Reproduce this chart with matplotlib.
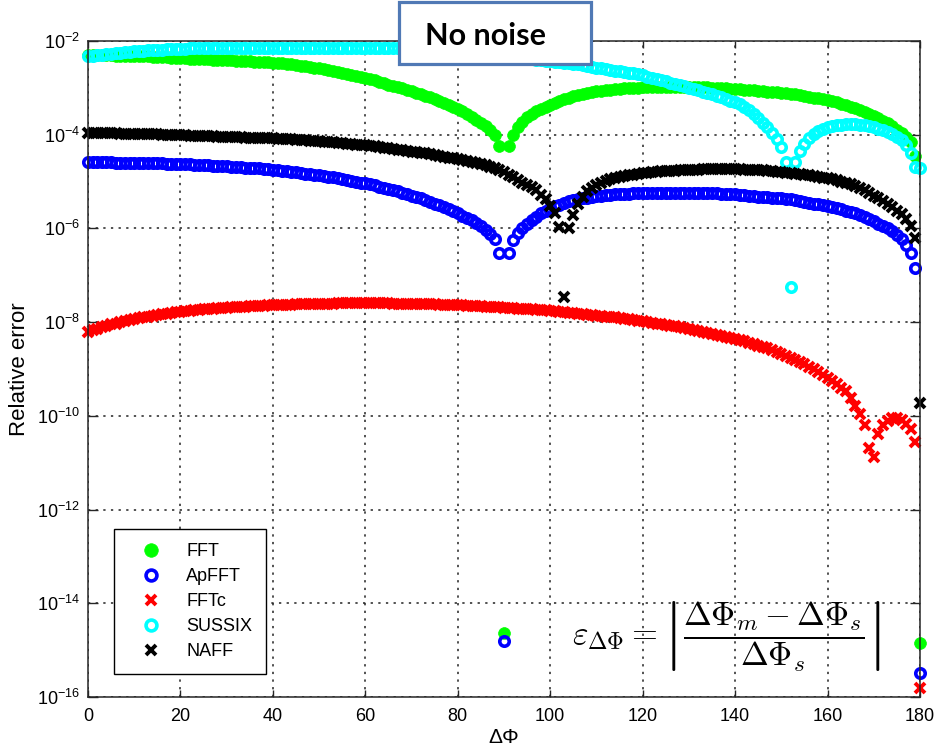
import numpy as np
import matplotlib
matplotlib.use("Agg")
import matplotlib.pyplot as plt
from matplotlib.patches import Rectangle
from matplotlib.ticker import FixedLocator, NullLocator, LogFormatterSciNotation

plt.rcParams['font.family'] = ['Liberation Sans', 'DejaVu Sans']

# Phase advance in degrees (1 degree step)
phase_deg = np.arange(0, 181)

# log10 of the relative error for each method, one entry per degree
fft_exp = [
    -2.29, -2.29, -2.29, -2.30, -2.30, -2.30, -2.31, -2.31, -2.31, -2.32,
    -2.32, -2.32, -2.33, -2.33, -2.34, -2.34, -2.35, -2.35, -2.36, -2.36,
    -2.37, -2.37, -2.38, -2.38, -2.38, -2.39, -2.39, -2.40, -2.40, -2.41,
    -2.41, -2.41, -2.42, -2.42, -2.43, -2.43, -2.44, -2.44, -2.45, -2.45,
    -2.46, -2.47, -2.48, -2.49, -2.50, -2.51, -2.53, -2.54, -2.55, -2.57,
    -2.58, -2.60, -2.62, -2.64, -2.66, -2.68, -2.70, -2.72, -2.75, -2.77,
    -2.79, -2.82, -2.84, -2.87, -2.90, -2.93, -2.96, -2.98, -3.01, -3.04,
    -3.07, -3.10, -3.13, -3.17, -3.20, -3.24, -3.28, -3.32, -3.36, -3.40,
    -3.45, -3.50, -3.56, -3.62, -3.68, -3.75, -3.82, -3.89, -4.00, -4.25,
    -14.64, -4.25, -4.00, -3.84, -3.72, -3.63, -3.56, -3.50, -3.45, -3.40,
    -3.36, -3.32, -3.28, -3.24, -3.21, -3.18, -3.15, -3.13, -3.11, -3.09,
    -3.07, -3.06, -3.05, -3.04, -3.03, -3.02, -3.01, -3.01, -3.00, -3.00,
    -2.99, -2.99, -2.99, -2.99, -2.98, -2.98, -2.98, -2.98, -2.98, -2.98,
    -2.98, -2.98, -2.99, -2.99, -2.99, -3.00, -3.00, -3.01, -3.01, -3.02,
    -3.02, -3.03, -3.04, -3.04, -3.05, -3.06, -3.07, -3.08, -3.08, -3.09,
    -3.10, -3.11, -3.13, -3.14, -3.16, -3.17, -3.19, -3.21, -3.22, -3.24,
    -3.26, -3.28, -3.31, -3.34, -3.37, -3.40, -3.44, -3.48, -3.52, -3.56,
    -3.60, -3.65, -3.70, -3.76, -3.82, -3.89, -3.96, -4.04, -4.15, -4.45,
    -14.85,
]

apfft_exp = [
    -4.59, -4.59, -4.59, -4.59, -4.59, -4.59, -4.60, -4.60, -4.60, -4.60,
    -4.60, -4.60, -4.61, -4.61, -4.61, -4.61, -4.61, -4.62, -4.62, -4.62,
    -4.62, -4.63, -4.63, -4.64, -4.64, -4.65, -4.65, -4.66, -4.66, -4.67,
    -4.67, -4.68, -4.69, -4.69, -4.70, -4.71, -4.72, -4.72, -4.73, -4.74,
    -4.75, -4.76, -4.77, -4.78, -4.79, -4.80, -4.81, -4.83, -4.84, -4.85,
    -4.87, -4.88, -4.90, -4.91, -4.93, -4.94, -4.96, -4.98, -5.00, -5.02,
    -5.04, -5.06, -5.08, -5.11, -5.13, -5.16, -5.19, -5.21, -5.24, -5.27,
    -5.30, -5.33, -5.36, -5.40, -5.43, -5.47, -5.51, -5.55, -5.59, -5.63,
    -5.68, -5.73, -5.78, -5.83, -5.89, -5.95, -6.03, -6.12, -6.22, -6.52,
    -14.80, -6.52, -6.25, -6.10, -6.00, -5.90, -5.82, -5.75, -5.68, -5.62,
    -5.57, -5.53, -5.49, -5.46, -5.42, -5.40, -5.37, -5.35, -5.34, -5.32,
    -5.31, -5.30, -5.29, -5.28, -5.27, -5.27, -5.26, -5.26, -5.25, -5.25,
    -5.25, -5.25, -5.24, -5.24, -5.24, -5.24, -5.24, -5.24, -5.24, -5.24,
    -5.24, -5.24, -5.24, -5.25, -5.25, -5.25, -5.25, -5.26, -5.26, -5.27,
    -5.27, -5.28, -5.29, -5.30, -5.31, -5.32, -5.32, -5.33, -5.34, -5.35,
    -5.36, -5.37, -5.38, -5.40, -5.41, -5.43, -5.45, -5.47, -5.48, -5.50,
    -5.52, -5.54, -5.57, -5.59, -5.62, -5.65, -5.68, -5.72, -5.76, -5.80,
    -5.85, -5.90, -5.95, -6.00, -6.06, -6.13, -6.22, -6.35, -6.52, -6.84,
    -15.49,
]

fftc_exp = [
    -8.20, -8.17, -8.14, -8.11, -8.08, -8.05, -8.03, -8.00, -7.98, -7.96,
    -7.94, -7.92, -7.90, -7.88, -7.86, -7.85, -7.83, -7.82, -7.80, -7.79,
    -7.78, -7.77, -7.76, -7.75, -7.74, -7.73, -7.72, -7.71, -7.70, -7.70,
    -7.69, -7.68, -7.68, -7.67, -7.67, -7.66, -7.66, -7.65, -7.65, -7.64,
    -7.64, -7.64, -7.63, -7.63, -7.63, -7.62, -7.62, -7.62, -7.62, -7.61,
    -7.61, -7.61, -7.61, -7.61, -7.60, -7.60, -7.60, -7.60, -7.60, -7.60,
    -7.60, -7.60, -7.60, -7.60, -7.60, -7.60, -7.61, -7.61, -7.61, -7.61,
    -7.61, -7.61, -7.62, -7.62, -7.62, -7.62, -7.63, -7.63, -7.63, -7.64,
    -7.64, -7.64, -7.65, -7.65, -7.66, -7.66, -7.67, -7.67, -7.68, -7.68,
    -7.69, -7.69, -7.70, -7.71, -7.71, -7.72, -7.73, -7.74, -7.74, -7.75,
    -7.76, -7.77, -7.78, -7.79, -7.80, -7.81, -7.82, -7.83, -7.84, -7.85,
    -7.86, -7.87, -7.88, -7.89, -7.90, -7.92, -7.93, -7.94, -7.95, -7.97,
    -7.98, -8.00, -8.01, -8.03, -8.04, -8.06, -8.08, -8.09, -8.11, -8.13,
    -8.15, -8.17, -8.19, -8.21, -8.23, -8.25, -8.27, -8.29, -8.32, -8.34,
    -8.36, -8.39, -8.41, -8.44, -8.47, -8.50, -8.53, -8.56, -8.60, -8.64,
    -8.68, -8.72, -8.76, -8.81, -8.85, -8.90, -8.95, -9.01, -9.07, -9.13,
    -9.20, -9.26, -9.33, -9.40, -9.48, -9.62, -9.80, -9.97, -10.20, -10.69,
    -10.88, -10.38, -10.20, -10.10, -10.05, -10.05, -10.08, -10.17, -10.28, -10.55,
    -15.81,
]

sussix_exp = [
    -2.33, -2.32, -2.30, -2.29, -2.28, -2.27, -2.26, -2.25, -2.24, -2.23,
    -2.22, -2.21, -2.21, -2.20, -2.20, -2.19, -2.19, -2.18, -2.18, -2.17,
    -2.17, -2.17, -2.16, -2.16, -2.16, -2.16, -2.15, -2.15, -2.15, -2.15,
    -2.15, -2.15, -2.14, -2.14, -2.14, -2.14, -2.14, -2.14, -2.14, -2.14,
    -2.14, -2.14, -2.14, -2.14, -2.14, -2.14, -2.14, -2.14, -2.14, -2.14,
    -2.14, -2.14, -2.14, -2.14, -2.14, -2.14, -2.14, -2.15, -2.15, -2.15,
    -2.15, -2.15, -2.15, -2.15, -2.16, -2.16, -2.16, -2.16, -2.17, -2.17,
    -2.17, -2.18, -2.18, -2.19, -2.19, -2.20, -2.20, -2.21, -2.22, -2.23,
    -2.24, -2.24, -2.25, -2.26, -2.27, -2.28, -2.29, -2.30, -2.31, -2.32,
    -2.33, -2.34, -2.35, -2.36, -2.37, -2.38, -2.39, -2.40, -2.41, -2.42,
    -2.43, -2.44, -2.45, -2.46, -2.47, -2.49, -2.50, -2.52, -2.53, -2.55,
    -2.57, -2.58, -2.60, -2.61, -2.63, -2.64, -2.66, -2.68, -2.69, -2.71,
    -2.73, -2.76, -2.78, -2.81, -2.83, -2.86, -2.89, -2.92, -2.94, -2.97,
    -3.00, -3.03, -3.05, -3.08, -3.11, -3.14, -3.17, -3.20, -3.23, -3.27,
    -3.30, -3.35, -3.41, -3.48, -3.56, -3.64, -3.74, -3.84, -3.96, -4.10,
    -4.27, -4.58, -7.25, -4.58, -4.35, -4.20, -4.08, -3.98, -3.92, -3.87,
    -3.84, -3.82, -3.80, -3.79, -3.78, -3.78, -3.78, -3.79, -3.80, -3.82,
    -3.84, -3.87, -3.90, -3.94, -3.99, -4.05, -4.12, -4.22, -4.40, -4.68,
    -4.72,
]

naff_exp = [
    -3.97, -3.97, -3.97, -3.97, -3.97, -3.97, -3.97, -3.98, -3.98, -3.98,
    -3.98, -3.98, -3.99, -3.99, -3.99, -3.99, -4.00, -4.00, -4.00, -4.01,
    -4.01, -4.01, -4.02, -4.02, -4.02, -4.03, -4.03, -4.03, -4.04, -4.04,
    -4.04, -4.05, -4.05, -4.05, -4.06, -4.06, -4.07, -4.07, -4.07, -4.08,
    -4.08, -4.09, -4.09, -4.10, -4.10, -4.11, -4.11, -4.12, -4.13, -4.13,
    -4.14, -4.15, -4.15, -4.16, -4.17, -4.18, -4.19, -4.20, -4.21, -4.22,
    -4.23, -4.24, -4.25, -4.26, -4.28, -4.29, -4.30, -4.32, -4.33, -4.34,
    -4.36, -4.37, -4.39, -4.40, -4.42, -4.44, -4.45, -4.47, -4.49, -4.50,
    -4.52, -4.54, -4.56, -4.58, -4.60, -4.62, -4.65, -4.68, -4.72, -4.76,
    -4.80, -4.85, -4.90, -4.96, -5.02, -5.07, -5.12, -5.19, -5.28, -5.38,
    -5.52, -5.68, -5.97, -7.46, -6.00, -5.72, -5.48, -5.32, -5.21, -5.13,
    -5.07, -5.02, -4.98, -4.95, -4.92, -4.90, -4.88, -4.86, -4.85, -4.84,
    -4.82, -4.81, -4.80, -4.79, -4.78, -4.78, -4.77, -4.77, -4.76, -4.76,
    -4.75, -4.75, -4.75, -4.74, -4.74, -4.74, -4.74, -4.74, -4.74, -4.74,
    -4.74, -4.74, -4.75, -4.75, -4.75, -4.76, -4.76, -4.77, -4.78, -4.79,
    -4.80, -4.81, -4.82, -4.83, -4.84, -4.86, -4.87, -4.89, -4.90, -4.92,
    -4.93, -4.95, -4.97, -5.00, -5.02, -5.05, -5.09, -5.13, -5.18, -5.24,
    -5.30, -5.36, -5.42, -5.48, -5.55, -5.62, -5.70, -5.80, -5.95, -6.20,
    -9.73,
]

series_labels = ['FFT', 'ApFFT', 'FFTc', 'SUSSIX', 'NAFF']
y_ticks = [1e-16, 1e-14, 1e-12, 1e-10, 1e-8, 1e-6, 1e-4, 1e-2]
x_ticks = [0, 20, 40, 60, 80, 100, 120, 140, 160, 180]

fft = 10.0 ** np.array(fft_exp)
apfft = 10.0 ** np.array(apfft_exp)
fftc = 10.0 ** np.array(fftc_exp)
sussix = 10.0 ** np.array(sussix_exp)
naff = 10.0 ** np.array(naff_exp)

W, H = 937, 746
fig = plt.figure(figsize=(W / 100, H / 100), dpi=100)
ax = fig.add_axes([88 / W, 1 - 697 / H, 832 / W, 656 / H])
ax.set_yscale('log')

common = dict(linestyle='none', clip_on=False)
ax.plot(phase_deg, fft, marker='o', ms=8.5, mfc='#00ff00', mec='#00ff00',
        mew=0.5, label=series_labels[0], **common)
ax.plot(phase_deg, apfft, marker='o', ms=6.8, mfc='none', mec='#0000ff',
        mew=2.6, label=series_labels[1], **common)
ax.plot(phase_deg, fftc, marker='x', ms=6.5, color='#ff0000',
        mew=2.8, label=series_labels[2], **common)
ax.plot(phase_deg, sussix, marker='o', ms=6.8, mfc='none', mec='#00ffff',
        mew=2.6, label=series_labels[3], **common)
ax.plot(phase_deg, naff, marker='x', ms=6.5, color='black',
        mew=2.8, label=series_labels[4], **common)

ax.set_xlim(0, 180)
ax.set_ylim(1e-16, 1e-2)
ax.xaxis.set_major_locator(FixedLocator(x_ticks))
ax.yaxis.set_major_locator(FixedLocator(y_ticks))
ax.yaxis.set_minor_locator(NullLocator())
ax.yaxis.set_major_formatter(LogFormatterSciNotation())

ax.grid(True, which='major', color='#222222', linewidth=1.1,
        linestyle=(0, (1.5, 3.5)))
ax.set_axisbelow(True)
for s in ax.spines.values():
    s.set_linewidth(1.1)
    s.set_color('#262626')
ax.tick_params(axis='both', which='major', direction='in', top=True,
               right=True, labelsize=13, width=1.0, colors='#262626',
               labelcolor='black')
ax.tick_params(axis='y', length=7, pad=6)
ax.tick_params(axis='x', length=5, pad=8)

ax.set_xlabel('ΔΦ', fontsize=15, labelpad=2)
ax.set_ylabel('Relative error', fontsize=16, labelpad=5)

leg = ax.legend(loc='lower left', bbox_to_anchor=(0.031, 0.035),
                borderaxespad=0, fontsize=13, frameon=True, fancybox=False,
                edgecolor='black', framealpha=1, markerscale=1.15,
                handlelength=2.6, handletextpad=0.65, borderpad=0.75,
                labelspacing=0.45)
leg.get_frame().set_linewidth(1.0)

# error definition
fig.text(726 / W, 1 - 636 / H,
         r'$\varepsilon_{\Delta\Phi} = \left|\dfrac{\Delta\Phi_m - \Delta\Phi_s}{\Delta\Phi_s}\right|$',
         math_fontfamily='cm', fontsize=24, ha='center', va='center')

# title box
fig.add_artist(Rectangle((399 / W, 1 - 64 / H), 192 / W, 62 / H,
                         transform=fig.transFigure, facecolor='white',
                         edgecolor='#5079b5', linewidth=2.3, zorder=10))
fig.text(486 / W, 1 - 45 / H, 'No noise', fontsize=22, fontweight='bold',
         family=['Lato', 'DejaVu Sans'], ha='center', va='baseline', zorder=11)

fig.savefig('out.png', dpi=100)
